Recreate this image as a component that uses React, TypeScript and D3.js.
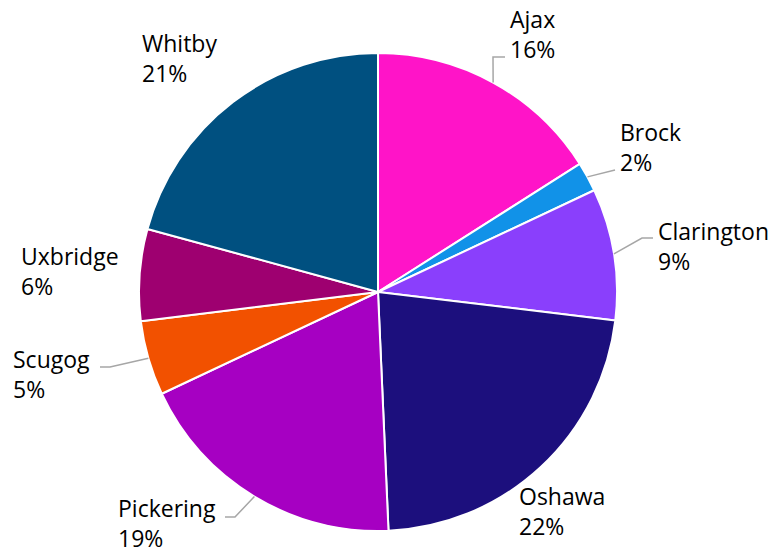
import React from "react";
import * as d3 from "d3";

const categories = ["Ajax", "Brock", "Clarington", "Oshawa", "Pickering", "Scugog", "Uxbridge", "Whitby"];
const values = [16, 2, 8.9, 22.4, 18.7, 5.05, 6.2, 20.75];
const colors = ["#ff14c8", "#1192e8", "#8a3ffc", "#1c0f7d", "#a600c2", "#f25100", "#9e0070", "#005080"];

// label layout: text x, first baseline y, optional elbow point for leader
const labelLayout: { x: number; y: number; elbow?: [number, number]; end?: [number, number] }[] = [
  { x: 510, y: 28, elbow: [493, 57], end: [505, 57] },
  { x: 620, y: 141, elbow: [615, 170], end: [615, 170] },
  { x: 658, y: 240, elbow: [642, 238], end: [653, 238] },
  { x: 519, y: 505 },
  { x: 118, y: 517, elbow: [235, 517], end: [225, 517] },
  { x: 13, y: 368, elbow: [110, 367], end: [100, 367] },
  { x: 21, y: 265 },
  { x: 142, y: 52 },
];

const W = 775;
const H = 554;
const cx = 378;
const cy = 292;
const R = 239;

export default function App() {
  const total = d3.sum(values);
  const pie = d3.pie<number>().sort(null).value((d) => d)(values);
  const arc = d3.arc<d3.PieArcDatum<number>>().innerRadius(0).outerRadius(R);
  return (
    <svg width={W} height={H} style={{ position: "absolute", left: 0, top: 0, background: "#fff" }}>
      <g transform={`translate(${cx},${cy})`}>
        {pie.map((p, i) => (
          <path key={i} d={arc(p) || ""} fill={colors[i]} stroke="#fff" strokeWidth={2} strokeLinejoin="round" />
        ))}
      </g>
      {pie.map((p, i) => {
        const L = labelLayout[i];
        if (!L.elbow || !L.end) return null;
        const a = (p.startAngle + p.endAngle) / 2;
        const sx = cx + R * Math.sin(a);
        const sy = cy - R * Math.cos(a);
        return (
          <polyline
            key={"l" + i}
            points={`${sx},${sy} ${L.elbow[0]},${L.elbow[1]} ${L.end[0]},${L.end[1]}`}
            fill="none"
            stroke="#a6a6a6"
            strokeWidth={1.5}
          />
        );
      })}
      {categories.map((c, i) => {
        const L = labelLayout[i];
        const pct = Math.round((values[i] / total) * 100) + "%";
        return (
          <text key={"t" + i} x={L.x} y={L.y} fontFamily="'Open Sans', sans-serif" fontSize={23} fill="#000">
            <tspan x={L.x} y={L.y}>{c}</tspan>
            <tspan x={L.x} y={L.y + 30}>{pct}</tspan>
          </text>
        );
      })}
    </svg>
  );
}
